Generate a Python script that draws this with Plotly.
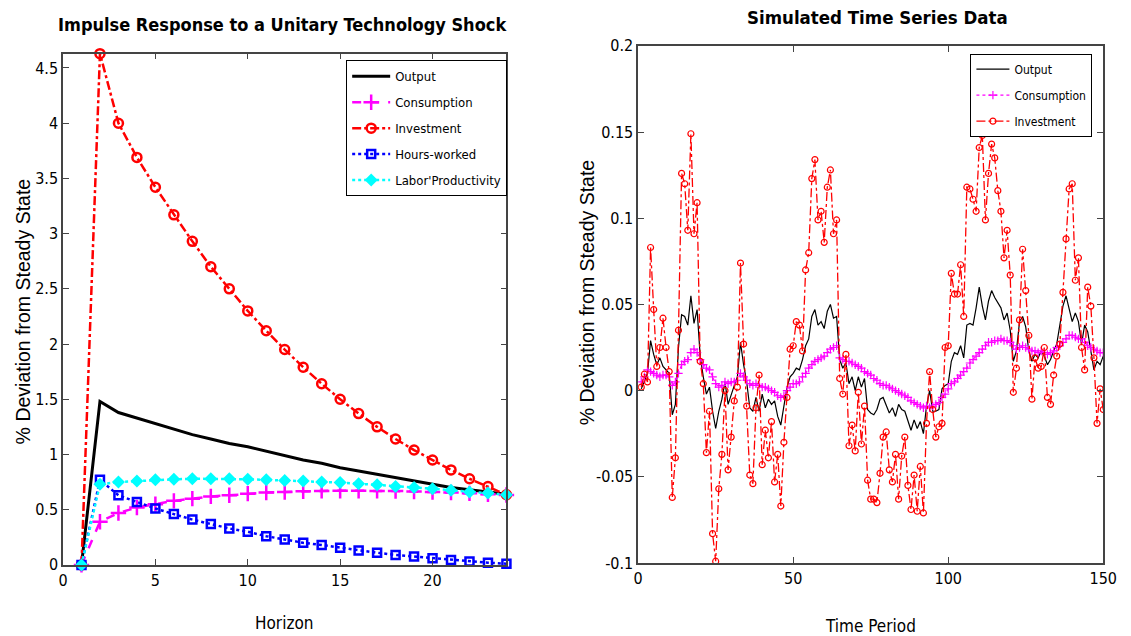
import plotly.graph_objects as go

# ---------------- Left panel: impulse responses ----------------
horizon = list(range(1, 25))
irf_output = [0, 1.48, 1.38, 1.33, 1.28, 1.23, 1.18, 1.14, 1.10, 1.07, 1.03, 0.99,
              0.95, 0.92, 0.88, 0.85, 0.82, 0.79, 0.76, 0.73, 0.70, 0.68, 0.66, 0.64]
irf_consumption = [0, 0.39, 0.47, 0.52, 0.55, 0.58, 0.60, 0.62, 0.63, 0.645, 0.655, 0.66,
                   0.667, 0.67, 0.672, 0.672, 0.67, 0.668, 0.665, 0.66, 0.655, 0.648, 0.64, 0.633]
irf_investment = [0, 4.63, 4.0, 3.69, 3.42, 3.17, 2.93, 2.70, 2.50, 2.30, 2.12, 1.95,
                  1.79, 1.64, 1.50, 1.37, 1.25, 1.14, 1.04, 0.95, 0.86, 0.78, 0.71, 0.635]
irf_hours = [0, 0.77, 0.63, 0.57, 0.51, 0.46, 0.41, 0.37, 0.33, 0.30, 0.26, 0.23,
             0.20, 0.18, 0.155, 0.13, 0.11, 0.09, 0.075, 0.06, 0.045, 0.03, 0.02, 0.01]
irf_productivity = [0, 0.73, 0.75, 0.76, 0.77, 0.775, 0.78, 0.78, 0.78, 0.775, 0.77, 0.765,
                    0.76, 0.75, 0.745, 0.735, 0.725, 0.71, 0.70, 0.69, 0.675, 0.66, 0.65, 0.635]

# ---------------- Right panel: simulated series ----------------
periods = list(range(1, 151))
sim_output = [
    0.001, 0.005, 0.010, 0.029, 0.021, 0.015, 0.019, 0.014, 0.012, 0.010,
    -0.014, -0.008, 0.025, 0.044, 0.043, 0.038, 0.055, 0.039, 0.047, 0.020,
    0.008, -0.002, 0.002, -0.012, -0.022, -0.012, -0.005, 0.005, -0.008, -0.002,
    0.003, 0.008, 0.028, 0.015, 0.005, -0.010, -0.012, -0.004, -0.012, -0.002,
    -0.010, -0.005, -0.008, -0.006, -0.015, -0.020, -0.008, 0.002, 0.008, 0.010,
    0.013, 0.012, 0.018, 0.026, 0.030, 0.043, 0.047, 0.038, 0.040, 0.036,
    0.046, 0.050, 0.042, 0.043, 0.018, 0.013, 0.016, 0.004, 0.008, 0.000,
    0.008, 0.002, 0.007, -0.011, -0.013, -0.014, -0.011, -0.005, -0.004, -0.009,
    -0.013, -0.010, -0.015, -0.008, -0.011, -0.012, -0.017, -0.023, -0.017, -0.022,
    -0.018, -0.025, -0.009, 0.000, -0.012, -0.012, -0.011, 0.001, 0.003, 0.004,
    0.017, 0.022, 0.021, 0.026, 0.019, 0.038, 0.039, 0.038, 0.048, 0.060,
    0.049, 0.041, 0.052, 0.058, 0.054, 0.051, 0.048, 0.041, 0.045, 0.035,
    0.017, 0.023, 0.040, 0.043, 0.037, 0.023, 0.017, 0.021, 0.019, 0.023,
    0.020, 0.015, 0.018, 0.023, 0.027, 0.038, 0.049, 0.055, 0.048, 0.040,
    0.045, 0.040, 0.027, 0.038, 0.034, 0.023, 0.012, 0.017, 0.015, 0.020]
sim_consumption = [
    0.005, 0.008, 0.012, 0.011, 0.010, 0.009, 0.008, 0.009, 0.009, 0.008,
    0.003, 0.005, 0.010, 0.015, 0.017, 0.018, 0.022, 0.024, 0.022, 0.018,
    0.015, 0.013, 0.012, 0.008, 0.004, 0.002, 0.003, 0.005, 0.004, 0.005,
    0.005, 0.006, 0.010, 0.008, 0.006, 0.004, 0.003, 0.004, 0.003, 0.002,
    0.002, 0.001, 0.000, -0.001, -0.003, -0.004, -0.003, 0.000, 0.002, 0.004,
    0.004, 0.005, 0.008, 0.010, 0.013, 0.015, 0.017, 0.018, 0.019, 0.020,
    0.022, 0.024, 0.025, 0.026, 0.019, 0.018, 0.017, 0.017, 0.016, 0.015,
    0.014, 0.013, 0.011, 0.010, 0.009, 0.007, 0.006, 0.004, 0.003, 0.003,
    0.002, 0.001, 0.000, -0.001, -0.002, -0.003, -0.004, -0.006, -0.007, -0.008,
    -0.009, -0.010, -0.009, -0.010, -0.009, -0.008, -0.007, -0.004, -0.002, 0.001,
    0.004, 0.005, 0.007, 0.009, 0.011, 0.013, 0.016, 0.018, 0.020, 0.022,
    0.024, 0.026, 0.028, 0.028, 0.029, 0.029, 0.030, 0.029, 0.029, 0.028,
    0.026, 0.024, 0.025, 0.026, 0.025, 0.024, 0.023, 0.023, 0.022, 0.023,
    0.022, 0.021, 0.022, 0.023, 0.025, 0.026, 0.028, 0.030, 0.032, 0.032,
    0.031, 0.030, 0.030, 0.028, 0.026, 0.025, 0.024, 0.023, 0.022, 0.022]
sim_investment = [
    0.002, 0.0095, 0.005, 0.083, 0.047, 0.014, 0.025, 0.042, 0.025, 0.011,
    -0.062, -0.039, 0.035, 0.126, 0.120, 0.093, 0.149, 0.091, 0.109, 0.017,
    0.004, -0.036, -0.012, -0.083, -0.099, -0.057, -0.037, 0.000, -0.046, -0.027,
    -0.006, 0.002, 0.074, 0.027, -0.009, -0.049, -0.054, -0.010, 0.009, -0.043,
    -0.023, -0.039, -0.018, -0.053, -0.037, -0.067, -0.030, -0.004, 0.024, 0.026,
    0.040, 0.038, 0.023, 0.070, 0.080, 0.123, 0.134, 0.099, 0.104, 0.086,
    0.118, 0.128, 0.091, 0.099, 0.007, -0.002, 0.021, -0.032, -0.020, -0.035,
    -0.001, -0.031, -0.009, -0.052, -0.063, -0.063, -0.065, -0.048, -0.027, -0.024,
    -0.046, -0.053, -0.037, -0.063, -0.038, -0.027, -0.055, -0.069, -0.049, -0.070,
    -0.044, -0.071, -0.019, 0.011, -0.011, -0.027, -0.021, -0.019, 0.025, 0.026,
    0.068, 0.056, 0.056, 0.073, 0.043, 0.118, 0.117, 0.111, 0.104, 0.141,
    0.148, 0.099, 0.126, 0.143, 0.135, 0.116, 0.104, 0.077, 0.093, 0.067,
    -0.001, 0.013, 0.041, 0.082, 0.058, 0.032, -0.005, 0.019, 0.013, 0.014,
    0.025, -0.004, -0.008, 0.009, 0.020, 0.027, 0.057, 0.088, 0.117, 0.120,
    0.064, 0.077, 0.025, 0.012, 0.060, 0.049, 0.019, -0.019, 0.001, -0.011]

left_title = "Impulse Response to a Unitary Technology Shock"
right_title = "Simulated Time Series Data"
ylabel = "% Deviation from Steady State"

NARROW = "DejaVu Sans Condensed, Liberation Sans Narrow, sans-serif"
REG = "Liberation Sans, Arial, sans-serif"

W, H = 1131, 636

fig = go.Figure()

# left traces
fig.add_trace(go.Scatter(x=horizon, y=irf_output, name="Output", mode="lines",
                         line=dict(color="black", width=3), xaxis="x", yaxis="y",
                         legend="legend", legendgroup="a", cliponaxis=False))
fig.add_trace(go.Scatter(x=horizon, y=irf_consumption, name="Consumption", mode="lines+markers",
                         line=dict(color="#ff00ff", width=2.5, dash="dash"),
                         marker=dict(symbol="cross-thin-open", size=11, line=dict(color="#ff00ff", width=2.5)),
                         xaxis="x", yaxis="y", legend="legend", legendgroup="b", cliponaxis=False))
fig.add_trace(go.Scatter(x=horizon, y=irf_investment, name="Investment", mode="lines+markers",
                         line=dict(color="#ff0000", width=2.5, dash="dashdot"),
                         marker=dict(symbol="circle-open", size=9, line=dict(color="#ff0000", width=2.5)),
                         xaxis="x", yaxis="y", legend="legend", legendgroup="c", cliponaxis=False))
fig.add_trace(go.Scatter(x=horizon, y=irf_hours, name="Hours-worked", mode="lines+markers",
                         line=dict(color="#0000ff", width=2.5, dash="dot"),
                         marker=dict(symbol="square-open", size=8, line=dict(color="#0000ff", width=2.5)),
                         xaxis="x", yaxis="y", legend="legend", legendgroup="d", cliponaxis=False))
fig.add_trace(go.Scatter(x=horizon, y=irf_productivity, name="Labor'Productivity", mode="lines+markers",
                         line=dict(color="#00ffff", width=2.5, dash="dot"),
                         marker=dict(symbol="diamond", size=10, color="#00ffff"),
                         xaxis="x", yaxis="y", legend="legend", legendgroup="e", cliponaxis=False))

# right traces
fig.add_trace(go.Scatter(x=periods, y=sim_output, name="Output", mode="lines",
                         line=dict(color="black", width=1.2), xaxis="x2", yaxis="y2",
                         legend="legend2", legendgroup="f"))
fig.add_trace(go.Scatter(x=periods, y=sim_consumption, name="Consumption", mode="lines+markers",
                         line=dict(color="#ff00ff", width=1.2, dash="dot"),
                         marker=dict(symbol="cross-thin-open", size=6, line=dict(color="#ff00ff", width=1.2)),
                         xaxis="x2", yaxis="y2", legend="legend2", legendgroup="g"))
fig.add_trace(go.Scatter(x=periods, y=sim_investment, name="Investment", mode="lines+markers",
                         line=dict(color="#ff0000", width=1.3, dash="dashdot"),
                         marker=dict(symbol="circle-open", size=6, line=dict(color="#ff0000", width=1.2)),
                         xaxis="x2", yaxis="y2", legend="legend2", legendgroup="h"))

axis_common = dict(showgrid=False, zeroline=False, showline=True, linecolor="#444444",
                   linewidth=1.5, mirror="ticks", ticks="inside", ticklen=6,
                   tickcolor="#444444", tickwidth=1.2,
                   tickfont=dict(family=NARROW, size=16, color="black"))

fig.update_layout(
    width=W, height=H,
    margin=dict(l=0, r=0, t=0, b=0),
    paper_bgcolor="white", plot_bgcolor="white",
    xaxis=dict(domain=[59 / W, 510 / W], range=[0, 24], tickvals=[0, 5, 10, 15, 20],
               anchor="y", **axis_common),
    yaxis=dict(domain=[1 - 573 / H, 1 - 46 / H], range=[0, 4.63],
               tickvals=[0, 0.5, 1, 1.5, 2, 2.5, 3, 3.5, 4, 4.5],
               ticktext=["0", "0.5", "1", "1.5", "2", "2.5", "3", "3.5", "4", "4.5"],
               anchor="x", **axis_common),
    xaxis2=dict(domain=[644 / W, 1117 / W], range=[0, 150], tickvals=[0, 50, 100, 150],
                anchor="y2", **axis_common),
    yaxis2=dict(domain=[1 - 571 / H, 1 - 38 / H], range=[-0.1, 0.2],
                tickvals=[-0.1, -0.05, 0, 0.05, 0.1, 0.15, 0.2],
                ticktext=["-0.1", "-0.05", "0", "0.05", "0.1", "0.15", "0.2"],
                anchor="x2", **axis_common),
    legend=dict(x=347 / W, y=1 - 53 / H, xanchor="left", yanchor="top",
                bgcolor="white", bordercolor="black", borderwidth=1,
                font=dict(family=NARROW, size=13, color="black"),
                itemwidth=38, tracegroupgap=6),
    legend2=dict(x=1106 / W, y=1 - 46 / H, xanchor="right", yanchor="top",
                 bgcolor="white", bordercolor="black", borderwidth=1,
                 font=dict(family=NARROW, size=12, color="black"),
                 itemwidth=33, tracegroupgap=7),
    showlegend=True,
)

annots = [
    dict(text="<b>%s</b>" % left_title, x=282 / W, y=1 - 16 / H, font=dict(family=NARROW, size=18)),
    dict(text="<b>%s</b>" % right_title, x=887 / W, y=1 - 9 / H, font=dict(family=NARROW, size=18.5)),
    dict(text="Horizon", x=284 / W, y=1 - 633 / H, font=dict(family=NARROW, size=17)),
    dict(text="Time Period", x=880 / W, y=1 - 636 / H, font=dict(family=NARROW, size=17)),
    dict(text=ylabel, x=18 / W, y=1 - 312 / H, textangle=-90, font=dict(family=REG, size=19.5)),
    dict(text=ylabel, x=592 / W, y=1 - 292 / H, textangle=-90, font=dict(family=REG, size=19.5)),
]
for a in annots:
    a["font"]["color"] = "black"
    fig.add_annotation(xref="paper", yref="paper", showarrow=False,
                       xanchor="center", yanchor="middle", **a)

fig.write_html("out.html")
